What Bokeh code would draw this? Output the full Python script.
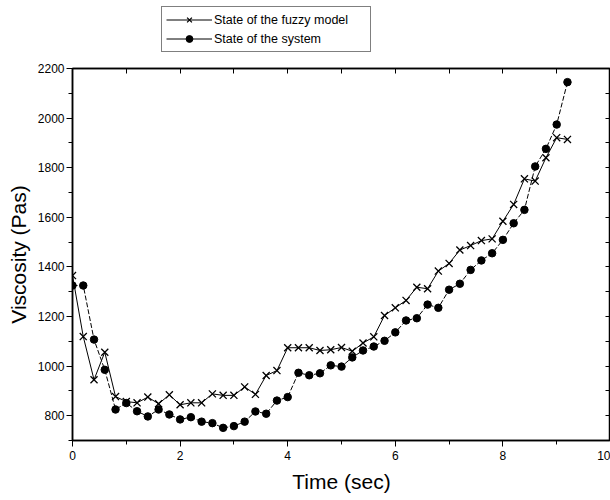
from bokeh.plotting import figure
from bokeh.layouts import column
from bokeh.models import LinearAxis, FixedTicker, Legend, LegendItem, Range1d, CustomJSTickFormatter
from bokeh.embed import file_html
from bokeh.resources import INLINE

time_s = [0.0, 0.2, 0.4, 0.6, 0.8, 1.0, 1.2, 1.4, 1.6, 1.8, 2.0, 2.2, 2.4, 2.6, 2.8, 3.0,
          3.2, 3.4, 3.6, 3.8, 4.0, 4.2, 4.4, 4.6, 4.8, 5.0, 5.2, 5.4, 5.6, 5.8, 6.0, 6.2,
          6.4, 6.6, 6.8, 7.0, 7.2, 7.4, 7.6, 7.8, 8.0, 8.2, 8.4, 8.6, 8.8, 9.0, 9.2]

fuzzy_model = [1365, 1119, 945, 1056, 877, 857, 852, 875, 848, 884, 844, 852, 852, 888, 882, 882,
               916, 886, 962, 982, 1074, 1074, 1074, 1063, 1066, 1075, 1060, 1093, 1118, 1204, 1235, 1265,
               1318, 1312, 1383, 1414, 1468, 1486, 1506, 1513, 1584, 1652, 1755, 1746, 1840, 1921, 1914]

system = [1325, 1325, 1107, 985, 825, 851, 818, 797, 825, 805, 785, 794, 776, 770, 751, 758,
          776, 817, 808, 861, 875, 973, 963, 971, 1003, 998, 1035, 1063, 1079, 1102, 1136, 1184,
          1193, 1248, 1235, 1308, 1332, 1388, 1426, 1455, 1509, 1576, 1630, 1805, 1876, 1974, 2145]

series_labels = ["State of the fuzzy model", "State of the system"]

x_major = [0, 2, 4, 6, 8, 10]
x_minor = [1, 3, 5, 7, 9]
x_all = [0, 1, 2, 3, 4, 5, 6, 7, 8, 9, 10]
y_major = [800, 1000, 1200, 1400, 1600, 1800, 2000, 2200]
y_minor = [700, 900, 1100, 1300, 1500, 1700, 1900, 2100]
y_all = [800, 900, 1000, 1100, 1200, 1300, 1400, 1500, 1600, 1700, 1800, 1900, 2000, 2100]

FONT = "Liberation Sans"

# ---------------- main chart ----------------
p = figure(width=610, height=444, output_backend="svg", toolbar_location=None,
           x_range=Range1d(0, 10), y_range=Range1d(700, 2200),
           min_border_left=72, min_border_right=0, min_border_top=12, min_border_bottom=60)
p.grid.visible = False
p.outline_line_color = "black"
p.outline_line_width = 1.5

for ax in (p.xaxis[0], p.yaxis[0]):
    ax.axis_line_color = "black"
    ax.axis_line_width = 1.5
    ax.major_tick_line_color = "black"
    ax.minor_tick_line_color = "black"
    ax.major_tick_in = 0
    ax.major_tick_out = 6
    ax.minor_tick_in = 0
    ax.minor_tick_out = 4
    ax.major_label_text_font = FONT
    ax.major_label_text_font_size = "12px"
    ax.major_label_text_color = "black"
    ax.axis_label_text_font = FONT
    ax.axis_label_text_font_size = "21px"
    ax.axis_label_text_font_style = "normal"
    ax.axis_label_text_color = "black"

p.xaxis[0].ticker = FixedTicker(ticks=x_major, minor_ticks=x_minor)
p.yaxis[0].ticker = FixedTicker(ticks=y_major, minor_ticks=y_minor)
p.xaxis[0].axis_label = "Time (sec)"
p.yaxis[0].axis_label = "Viscosity (Pas)"
p.xaxis[0].major_label_standoff = 4
p.yaxis[0].major_label_standoff = 2
p.xaxis[0].axis_label_standoff = 7
p.yaxis[0].axis_label_standoff = 5

blank = CustomJSTickFormatter(code="return '';")
top = LinearAxis(ticker=FixedTicker(ticks=x_all), formatter=blank,
                 major_tick_in=5, major_tick_out=0, minor_tick_line_color=None,
                 axis_line_width=1.5, major_label_standoff=0)
right = LinearAxis(ticker=FixedTicker(ticks=y_all), formatter=blank,
                   major_tick_in=5, major_tick_out=0, minor_tick_line_color=None,
                   axis_line_width=1.5, major_label_standoff=0)
p.add_layout(top, "above")
p.add_layout(right, "right")

p.line(time_s, fuzzy_model, line_color="black", line_width=1)
p.scatter(time_s, fuzzy_model, marker="x", size=10, line_color="black", line_width=1.3)
p.line(time_s, system, line_color="black", line_width=1, line_dash="5 2")
p.scatter(time_s, system, marker="circle", size=7.5, fill_color="black", line_color="black")

# ---------------- legend strip above the chart ----------------
lg = figure(width=610, height=56, output_backend="svg", toolbar_location=None,
            x_range=Range1d(0, 1), y_range=Range1d(0, 1), x_axis_type=None, y_axis_type=None,
            min_border_left=0, min_border_right=0, min_border_top=0, min_border_bottom=0)
lg.grid.visible = False
lg.outline_line_color = None
# same series, out of this strip's view: only their legend glyphs are shown
lf = lg.line(time_s, fuzzy_model, line_color="black", line_width=1)
sf = lg.scatter(time_s, fuzzy_model, marker="x", size=9, line_color="black", line_width=1.3)
ls = lg.line(time_s, system, line_color="black", line_width=1)
ss = lg.scatter(time_s, system, marker="circle", size=7, fill_color="black", line_color="black")

legend = Legend(items=[
    LegendItem(label=series_labels[0], renderers=[lf, sf]),
    LegendItem(label=series_labels[1], renderers=[ls, ss]),
], location=(89, 4), orientation="vertical", border_line_color="black", border_line_width=1,
    background_fill_color="white", label_text_font=FONT, label_text_font_size="12.5px",
    label_text_color="black", glyph_width=46, glyph_height=17, label_height=17, label_width=152,
    spacing=2, padding=4, margin=0, label_standoff=2)
lg.add_layout(legend, "center")

layout = column(lg, p, spacing=0)
open("out.html", "w").write(file_html(layout, INLINE))
